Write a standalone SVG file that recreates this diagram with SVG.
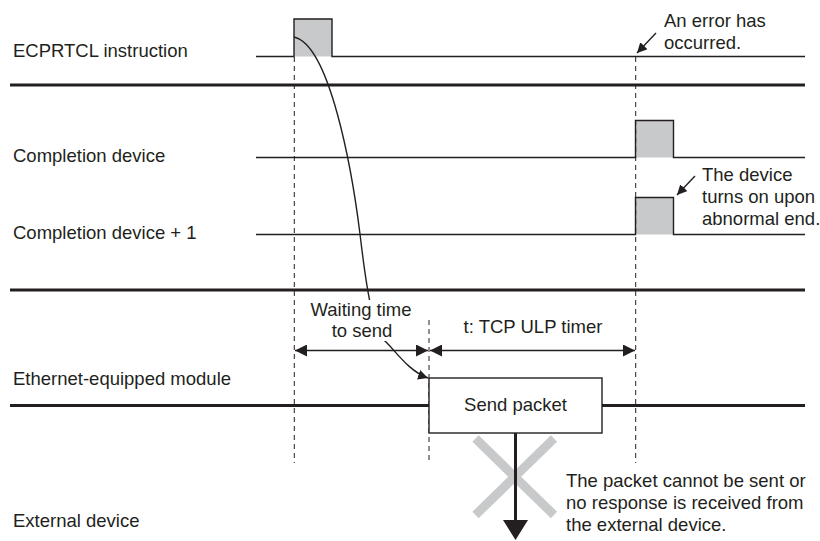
<svg xmlns="http://www.w3.org/2000/svg" width="820" height="541" viewBox="0 0 820 541">
<style>
text{font-family:"Liberation Sans",Arial,sans-serif;font-size:18.5px;fill:#231f20}
.sig{fill:none;stroke:#231f20;stroke-width:1.4}
.thick{fill:none;stroke:#231f20;stroke-width:2.8}
.dash{fill:none;stroke:#231f20;stroke-width:1;stroke-dasharray:5 4}
.pulse{fill:#c8c9ca;stroke:none}
.dim{fill:none;stroke:#231f20;stroke-width:1.4}
.mid{text-anchor:middle}
</style>
<defs>
<marker id="ah" viewBox="0 0 12 12" refX="12" refY="6" markerWidth="12" markerHeight="12" markerUnits="userSpaceOnUse" orient="auto-start-reverse">
<path d="M0,0 L12,6 L0,12 Z" fill="#231f20"/>
</marker>
<marker id="ahs" viewBox="0 0 10 10" refX="10" refY="5" markerWidth="10" markerHeight="10" markerUnits="userSpaceOnUse" orient="auto">
<path d="M0,0 L10,5 L0,10 Z" fill="#231f20"/>
</marker>
</defs>
<rect width="820" height="541" fill="#fff"/>

<g id="labels">
<text x="13" y="56.5">ECPRTCL instruction</text>
<text x="13" y="161.5">Completion device</text>
<text x="13" y="238.5">Completion device + 1</text>
<text x="13" y="385">Ethernet-equipped module</text>
<text x="13" y="527">External device</text>
</g>

<g id="separators">
<line class="thick" x1="10" y1="85" x2="805" y2="85"/>
<line class="thick" x1="10" y1="290" x2="805" y2="290"/>
</g>

<g id="ecprtcl">
<rect class="pulse" x="294" y="19" width="38" height="37.5"/>
<polyline class="sig" points="256,56.5 294,56.5 294,19 332,19 332,56.5 805,56.5"/>
</g>

<g id="completion">
<rect class="pulse" x="635.5" y="120.5" width="38" height="37"/>
<polyline class="sig" points="256,157.5 635.5,157.5 635.5,120.5 673.5,120.5 673.5,157.5 805,157.5"/>
</g>

<g id="completion1">
<rect class="pulse" x="635.5" y="197.5" width="38" height="37"/>
<polyline class="sig" points="256,234.5 635.5,234.5 635.5,197.5 673.5,197.5 673.5,234.5 805,234.5"/>
</g>

<g id="guides">
<line class="dash" x1="294.3" y1="57" x2="294.3" y2="463"/>
<line class="dash" x1="429" y1="320" x2="429" y2="463"/>
<line class="dash" x1="635.7" y1="57" x2="635.7" y2="463"/>
</g>

<g id="module">
<line class="thick" x1="10" y1="405.5" x2="429" y2="405.5"/>
<line class="thick" x1="602" y1="405.5" x2="805" y2="405.5"/>
</g>

<g id="connectors">
<path class="sig" d="M294,37 C330,45 352,170 360,234 C366,285 372,330 387,343 C396,352 410,372 428,378" marker-end="url(#ahs)"/>
<line class="dim" x1="295" y1="350.5" x2="428" y2="350.5" marker-start="url(#ah)" marker-end="url(#ah)"/>
<line class="dim" x1="430" y1="350.5" x2="635" y2="350.5" marker-start="url(#ah)" marker-end="url(#ah)"/>
<line class="dim" x1="656" y1="33" x2="637" y2="53" marker-end="url(#ahs)"/>
<line class="dim" x1="695" y1="176" x2="677" y2="195" marker-end="url(#ahs)"/>
</g>

<g id="waiting">
<rect x="308" y="300" width="106" height="41" fill="#fff"/>
<text class="mid" x="361" y="315.5">Waiting time</text>
<text class="mid" x="362" y="337">to send</text>
</g>

<g id="timer">
<text class="mid" x="533" y="333">t: TCP ULP timer</text>
</g>

<g id="send-packet">
<rect x="429" y="378" width="173" height="55" fill="#fff" stroke="#231f20" stroke-width="1.4"/>
<text class="mid" x="515.5" y="411">Send packet</text>
</g>

<g id="failure">
<line x1="475.5" y1="438.5" x2="554" y2="515" stroke="#c8c9ca" stroke-width="9"/>
<line x1="554" y1="438.5" x2="475.5" y2="515" stroke="#c8c9ca" stroke-width="9"/>
<line x1="515.5" y1="433" x2="515.5" y2="521" stroke="#231f20" stroke-width="3"/>
<path d="M503,520 L528,520 L515.5,540 Z" fill="#231f20"/>
</g>

<g id="notes">
<text x="664" y="26.5">An error has</text>
<text x="664" y="48.5">occurred.</text>
<text x="702" y="180.5">The device</text>
<text x="702" y="202.5">turns on upon</text>
<text x="702" y="224.5">abnormal end.</text>
<text x="566" y="486.5">The packet cannot be sent or</text>
<text x="566" y="508.5">no response is received from</text>
<text x="566" y="530.5">the external device.</text>
</g>
</svg>
